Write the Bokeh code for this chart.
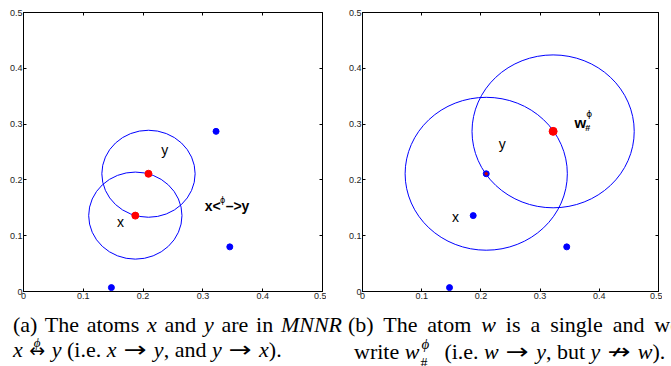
from bokeh.plotting import figure
from bokeh.models import LinearAxis, Range1d, Div, FixedTicker, NumeralTickFormatter, CustomJSTickFormatter
from bokeh.layouts import column, row
from bokeh.embed import file_html
from bokeh.resources import INLINE
from bokeh.core.properties import value

# ---------------- data ----------------
ticks = [0.0, 0.1, 0.2, 0.3, 0.4, 0.5]

# panel (a)
a_blue_x = [0.147, 0.322, 0.345]
a_blue_y = [0.007, 0.287, 0.080]
a_red_x = [0.187, 0.209]
a_red_y = [0.136, 0.211]
a_circle_x = [0.187, 0.209]
a_circle_y = [0.136, 0.211]
a_radius = 0.078
a_label_text = ["x", "y"]
a_label_x = [0.162, 0.236]
a_label_y = [0.124, 0.253]
a_rel_x = 0.333
a_rel_y = 0.153

# panel (b)
b_blue_x = [0.147, 0.187, 0.345, 0.209]
b_blue_y = [0.007, 0.136, 0.080, 0.211]
b_red_x = [0.322]
b_red_y = [0.287]
b_inner_x = [0.209]
b_inner_y = [0.211]
b_circle_x = [0.209, 0.322]
b_circle_y = [0.211, 0.287]
b_radius = 0.137
b_label_text = ["x", "y"]
b_label_x = [0.157, 0.236]
b_label_y = [0.133, 0.265]
b_w_x = 0.368
b_w_y = 0.303

SANS = "Liberation Sans"


def style_axis(ax, show_labels):
    ax.ticker = FixedTicker(ticks=ticks)
    if show_labels:
        ax.formatter = NumeralTickFormatter(format="0.[0]")
    else:
        ax.formatter = CustomJSTickFormatter(code="return ''")
    ax.major_tick_in = 3
    ax.major_tick_out = 0
    ax.minor_tick_in = 0
    ax.minor_tick_out = 0
    ax.axis_line_color = "black"
    ax.major_tick_line_color = "black"
    ax.major_label_text_font = SANS
    ax.major_label_text_color = "#222222"
    ax.major_label_standoff = 1 if show_labels else 0
    ax.major_label_text_font_size = "9px"


def make_fig(frame_w, left_border):
    p = figure(frame_width=frame_w, frame_height=279,
               x_range=Range1d(0, 0.5), y_range=Range1d(0, 0.5),
               output_backend="svg", toolbar_location=None,
               min_border_left=left_border, min_border_right=4,
               min_border_top=12, min_border_bottom=12,
               x_axis_location=None, y_axis_location=None)
    p.xgrid.visible = False
    p.ygrid.visible = False
    p.outline_line_color = "black"
    p.outline_line_width = 1
    p.background_fill_color = "white"
    p.border_fill_color = "white"
    for loc, show in (("below", True), ("left", True), ("above", False), ("right", False)):
        ax = LinearAxis()
        style_axis(ax, show)
        p.add_layout(ax, loc)
    return p


# ---------------- panel (a) ----------------
pa = make_fig(299, 23)
pa.ellipse(x=a_circle_x, y=a_circle_y, width=2 * a_radius, height=2 * a_radius,
           fill_color=None, line_color="#0000ff", line_width=1)
pa.scatter(x=a_blue_x, y=a_blue_y, size=6, color="#0000ff")
pa.scatter(x=a_red_x, y=a_red_y, size=7, color="#ff0000")
pa.text(x=a_label_x, y=a_label_y, text=a_label_text, text_font=value(SANS),
        text_font_size="14px", text_align="center", text_baseline="middle", text_color="black")
pa.text(x=[a_rel_x], y=[a_rel_y], text=["x<"], text_font=value(SANS), text_font_style="bold",
        text_font_size="14px", text_align="right", text_baseline="middle", x_offset=-2)
pa.text(x=[a_rel_x], y=[a_rel_y], text=["\u2013>y"], text_font=value(SANS), text_font_style="bold",
        text_font_size="14px", text_align="left", text_baseline="middle", x_offset=3)
pa.text(x=[a_rel_x], y=[a_rel_y], text=["\u03d5"], text_font=value("DejaVu Sans"),
        text_font_size="8px", text_align="center", text_baseline="middle", y_offset=-6)

# ---------------- panel (b) ----------------
pb = make_fig(296, 36)
pb.ellipse(x=b_circle_x, y=b_circle_y, width=2 * b_radius, height=2 * b_radius,
           fill_color=None, line_color="#0000ff", line_width=1)
pb.scatter(x=b_blue_x, y=b_blue_y, size=6, color="#0000ff")
pb.scatter(x=b_inner_x, y=b_inner_y, size=2.5, color="#cc0000")
pb.scatter(x=b_red_x, y=b_red_y, size=8, color="#ff0000")
pb.text(x=b_label_x, y=b_label_y, text=b_label_text, text_font=value(SANS),
        text_font_size="14px", text_align="center", text_baseline="middle", text_color="black")
pb.text(x=[b_w_x], y=[b_w_y], text=["w"], text_font=value(SANS), text_font_style="bold",
        text_font_size="15px", text_align="center", text_baseline="middle")
pb.text(x=[b_w_x], y=[b_w_y], text=["\u03d5"], text_font=value("DejaVu Sans"),
        text_font_size="9px", text_align="left", text_baseline="middle", x_offset=6, y_offset=-8)
pb.text(x=[b_w_x], y=[b_w_y], text=["#"], text_font=value(SANS), text_font_style="bold",
        text_font_size="9px", text_align="left", text_baseline="middle", x_offset=5, y_offset=6)

# ---------------- captions ----------------
ARROW_STYLE = ('display:inline-block;font-family:\'DejaVu Sans\';font-style:normal;'
               'transform:scaleX(1.25);margin:0 4px;')
to = '<span style="%s">\u2192</span>' % ARROW_STYLE
not_to = '<span style="%s">\u219b</span>' % ARROW_STYLE
phi_arrow = ('<span style="position:relative;display:inline-block;">'
             '<span style="position:absolute;left:0;right:0;top:-1px;text-align:center;'
             'font-size:13px;line-height:1;font-style:italic;font-family:\'Liberation Serif\';">\u03d5</span>'
             '<span style="' + ARROW_STYLE + 'transform:none;margin:0 1px;font-size:19px;">\u2194</span></span>')
w_supsub = ('<span style="position:relative;display:inline-block;width:14px;height:22px;">'
            '<span style="position:absolute;left:2px;top:0px;font-size:15px;line-height:1;'
            'font-style:italic;">\u03d5</span>'
            '<span style="position:absolute;left:1px;top:20px;font-size:14px;line-height:1;">#</span>'
            '</span>')

cap_a_line1 = '(a) The atoms <i>x</i> and <i>y</i> are in <i>MNNR</i>'
cap_a_line2 = ('<i>x</i> ' + phi_arrow + ' <i>y</i> (i.e. <i>x</i> ' + to + ' <i>y</i>, '
               'and <i>y</i> ' + to + ' <i>x</i>).')
cap_b_line1 = '(b) The atom <i>w</i> is a single and we'
cap_b_line2 = ('write <i>w</i>' + w_supsub + ' &nbsp;(i.e. <i>w</i> ' + to + ' <i>y</i>, '
               'but <i>y</i> ' + not_to + ' <i>w</i>).')


def block(left, width, line1, line2, indent2):
    return ('<div style="position:absolute;left:%dpx;top:4px;width:%dpx;line-height:25px;">'
            '<div style="text-align:justify;text-align-last:justify;">%s</div>'
            '<div style="text-align:left;padding-left:%dpx;white-space:nowrap;">%s</div>'
            '</div>') % (left, width, line1, indent2, line2)


caption_html = ('<div style="position:relative;width:671px;height:62px;overflow:hidden;'
                'font-family:\'Liberation Serif\',\'DejaVu Serif\',serif;font-size:22px;color:#000;">'
                + block(8, 329, cap_a_line1, cap_a_line2, 0)
                + block(343, 332, cap_b_line1, cap_b_line2, 6)
                + '</div>')
caption = Div(text=caption_html, width=671, height=62)

layout = column(row(pa, pb), caption)

open("out.html", "w").write(file_html(layout, INLINE))
